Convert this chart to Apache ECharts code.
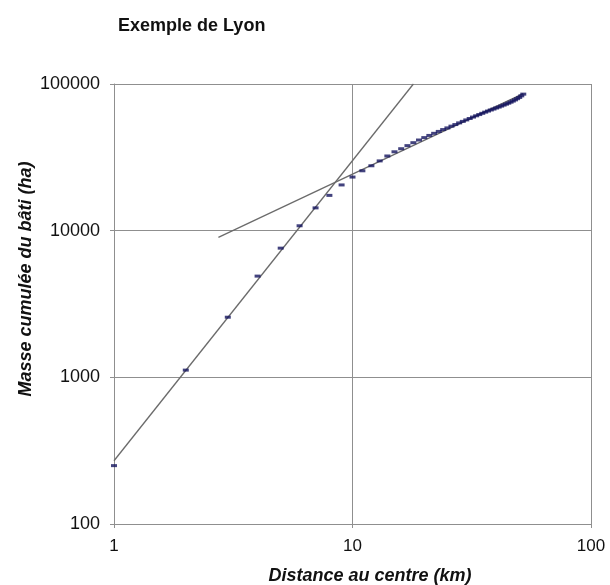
<!DOCTYPE html>
<html>
<head>
<meta charset="utf-8">
<script src="https://cdn.jsdelivr.net/npm/echarts@6/dist/echarts.min.js"></script>
<style>html,body{margin:0;padding:0;background:#fff;}#c{width:610px;height:585px;}</style>
</head>
<body>
<div id="c"></div>
<script>
// Data
var distances = [1,2,3,4,5,6,7,8,9,10,11,12,13,14,15,16,17,18,19,20,21,22,23,24,25,26,27,28,29,30,31,32,33,34,35,36,37,38,39,40,41,42,43,44,45,46,47,48,49,50,51,52];
var masses = [250,1120,2570,4900,7600,10800,14300,17400,20500,23200,25600,27700,29900,32300,34500,36200,38000,39800,41500,43100,44600,46100,47500,48900,50200,51600,52900,54300,55600,56900,58200,59500,60700,61900,63100,64300,65400,66500,67500,68600,69600,70700,71800,72900,74000,75200,76500,77900,79400,81000,83000,85300];
var fitSteepX = [1, 18];
var fitSteepY = [270, 100000];
var fitShallowX = [2.74, 52];
var fitShallowY = [9000, 86000];
var xTicks = [1, 10, 100];
var yTicks = [100, 1000, 10000, 100000];

function pairs(xs, ys){ return xs.map(function(x,i){ return [x, ys[i]]; }); }

var font = '"Liberation Sans", Arial, sans-serif';
var gridColor = '#8f8f8f';
var chart = echarts.init(document.getElementById('c'), null, {renderer:'canvas'});
chart.setOption({
  animation: false,
  backgroundColor: '#ffffff',
  title: {
    text: 'Exemple de Lyon',
    left: 113, top: 12,
    textStyle: {fontFamily: font, fontSize: 18, fontWeight: 'bold', color: '#111'}
  },
  grid: {left: 114, right: 19, top: 84, bottom: 61, containLabel: false},
  xAxis: {
    type: 'log', logBase: 10, min: 1, max: 100,
    axisLine: {show: true, lineStyle: {color: gridColor, width: 1}},
    axisTick: {show: true, inside: false, length: 4, lineStyle: {color: gridColor}},
    splitLine: {show: true, lineStyle: {color: gridColor, width: 1}},
    minorTick: {show: false}, minorSplitLine: {show: false},
    axisLabel: {fontFamily: font, fontSize: 17, color: '#111', margin: 14,
      formatter: function(v){ return xTicks.indexOf(Math.round(v)) >= 0 ? String(Math.round(v)) : ''; }}
  },
  yAxis: {
    type: 'log', logBase: 10, min: 100, max: 100000,
    axisLine: {show: true, lineStyle: {color: gridColor, width: 1}},
    axisTick: {show: true, inside: false, length: 4, lineStyle: {color: gridColor}},
    splitLine: {show: true, lineStyle: {color: gridColor, width: 1}},
    axisLabel: {fontFamily: font, fontSize: 18, color: '#111', margin: 14,
      formatter: function(v){ return yTicks.indexOf(Math.round(v)) >= 0 ? String(Math.round(v)) : ''; }}
  },
  graphic: [
    {type: 'text', x: 26, y: 279, rotation: Math.PI/2,
      style: {text: 'Masse cumulée du bâti (ha)', fontFamily: font, fontSize: 18, fontWeight: 'bold', fontStyle: 'italic',
        fill: '#111', textAlign: 'center', textVerticalAlign: 'middle'}},
    {type: 'text', x: 370, y: 576,
      style: {text: 'Distance au centre (km)', fontFamily: font, fontSize: 18, fontWeight: 'bold', fontStyle: 'italic',
        fill: '#111', textAlign: 'center', textVerticalAlign: 'middle'}}
  ],
  series: [
    {type: 'line', data: pairs(fitSteepX, fitSteepY), symbol: 'none', silent: true,
      lineStyle: {color: '#6b6b6b', width: 1.3}, z: 2},
    {type: 'line', data: pairs(fitShallowX, fitShallowY), symbol: 'none', silent: true,
      lineStyle: {color: '#6b6b6b', width: 1.3}, z: 2},
    {type: 'scatter', data: pairs(distances, masses), symbol: 'rect', symbolSize: [6, 3],
      itemStyle: {color: '#14145e'}, z: 3}
  ]
});
</script>
</body>
</html>
